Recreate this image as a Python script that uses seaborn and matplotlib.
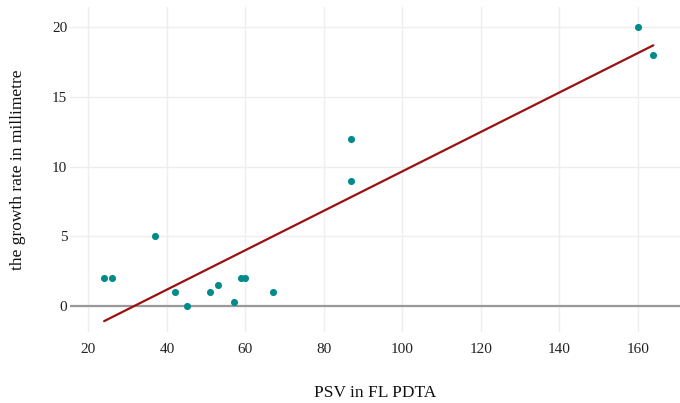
import matplotlib
matplotlib.use("Agg")
import matplotlib.pyplot as plt
import seaborn as sns
import pandas as pd

# PSV in FL PDTA vs growth rate (mm)
psv = [24, 26, 37, 42, 45, 51, 53, 57, 59, 60, 67, 87, 87, 160, 164]
growth = [2, 2, 5, 1, 0, 1, 1.5, 0.3, 2, 2, 1, 12, 9, 20, 18]
x_ticks = [20, 40, 60, 80, 100, 120, 140, 160]
y_ticks = [0, 5, 10, 15, 20]

df = pd.DataFrame({"psv": psv, "growth": growth})

sns.set_style("white")
plt.rcParams["font.family"] = ["Liberation Serif", "DejaVu Serif"]

fig = plt.figure(figsize=(6.8, 4.03), dpi=100)
ax = fig.add_axes([70 / 680, 1 - 332 / 403, 610 / 680, 325 / 403])

ax.grid(True, color="#eeeeee", linewidth=1)
ax.set_axisbelow(True)
ax.axhline(0, color="#999999", linewidth=1.6, zorder=1)

sns.regplot(data=df, x="psv", y="growth", ax=ax, ci=None, truncate=True,
            scatter_kws=dict(color="#008b8b", s=26, linewidths=0, alpha=1, zorder=3),
            line_kws=dict(color="#991111", linewidth=1.6, zorder=2))

ax.set_xlim(15.3, 170.8)
ax.set_ylim(-1.87, 21.45)
ax.set_xticks(x_ticks)
ax.set_yticks(y_ticks)
ax.tick_params(length=0, labelsize=11, colors="#222222")
ax.tick_params(axis="x", pad=8)
ax.tick_params(axis="y", pad=2)
for s in ax.spines.values():
    s.set_visible(False)

ax.set_xlabel("PSV in FL PDTA", fontsize=12.5, color="#111111", va="center")
ax.set_ylabel("the growth rate in millimetre", fontsize=12.5, color="#111111", va="center")
ax.xaxis.set_label_coords(0.5, (332 - 393) / 325)
ax.yaxis.set_label_coords((18 - 70) / 610, 0.5)

fig.savefig("out.png", dpi=100)
